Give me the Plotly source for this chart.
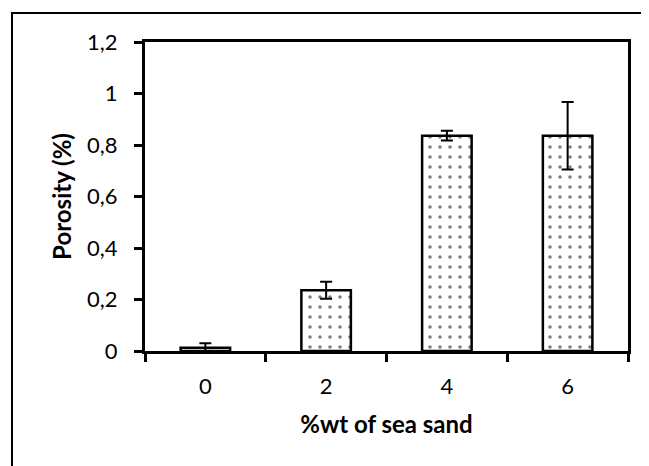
import plotly.graph_objects as go

categories = ["0", "2", "4", "6"]
porosity = [0.013, 0.236, 0.836, 0.836]
errors = [0.017, 0.033, 0.019, 0.131]
y_ticks = [0, 0.2, 0.4, 0.6, 0.8, 1.0, 1.2]

# page body has an 8px default margin; compensate
OFF = 8
W, H = 649 - OFF, 466 - OFF
L, R, T = 145 - OFF, 21, 42 - OFF
B = H - (351 - OFF)
pw, ph = W - L - R, H - T - B

font = "Lato, Carlito, Calibri, sans-serif"

fig = go.Figure(go.Bar(
    x=categories, y=porosity,
    marker=dict(color="white", line=dict(color="black", width=2.5),
                pattern=dict(shape=".", fgcolor="black", bgcolor="white",
                             size=10, solidity=0.1)),
    error_y=dict(type="data", array=errors, visible=True,
                 color="black", thickness=2, width=6),
))

fig.update_layout(
    width=W, height=H,
    margin=dict(l=L, r=R, t=T, b=B, autoexpand=False),
    paper_bgcolor="white", plot_bgcolor="white",
    separators=", ",
    bargap=0.59,
    showlegend=False,
    font=dict(family=font, color="black", size=22),
)
fig.update_xaxes(
    type="category", tickson="boundaries", ticks="outside", ticklen=8,
    tickwidth=2.5, tickcolor="black", ticklabelstandoff=14,
    showline=True, linecolor="black", linewidth=3, mirror=True,
    showgrid=False, tickfont=dict(size=22),
    title=dict(text="<b>%wt of sea sand</b>", font=dict(size=24), standoff=18),
)
fig.update_yaxes(
    range=[0, 1.2], tickvals=y_ticks, ticks="outside", ticklen=8,
    tickwidth=2.5, tickcolor="black", ticklabelstandoff=12,
    showline=True, linecolor="black", linewidth=3, mirror=True,
    showgrid=False, zeroline=False, tickfont=dict(size=22),
    title=dict(text="<b>Porosity (%)</b>", font=dict(size=24), standoff=9),
)

# outer chart-area border
fig.add_shape(type="rect", xref="paper", yref="paper",
              x0=(12 - OFF - L) / pw, x1=(W + 20 - L) / pw,
              y0=(T + ph - (H + 20)) / ph, y1=(T + ph - (13 - OFF)) / ph,
              line=dict(color="black", width=2), fillcolor="rgba(0,0,0,0)",
              layer="below")

fig.write_html("out.html")
